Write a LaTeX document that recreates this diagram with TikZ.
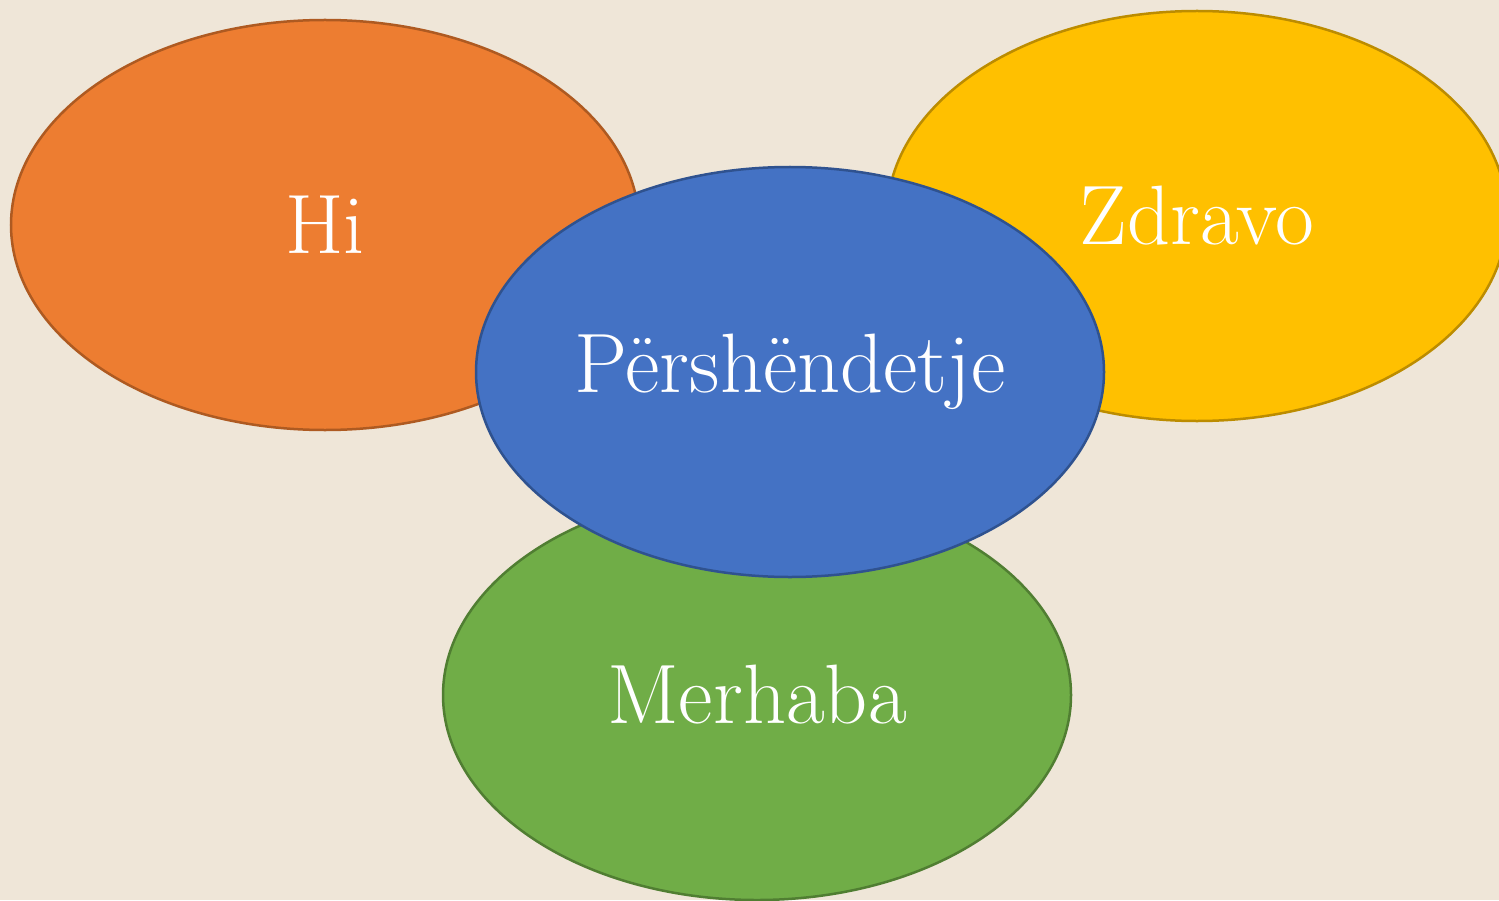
\documentclass[tikz,border=0pt]{standalone}
\usepackage{tikz}
\usetikzlibrary{shapes.geometric}
\definecolor{paper}{RGB}{239,230,216}
\definecolor{orangefill}{RGB}{237,125,49}
\definecolor{orangeline}{RGB}{174,90,33}
\definecolor{goldfill}{RGB}{255,192,0}
\definecolor{goldline}{RGB}{188,140,0}
\definecolor{bluefill}{RGB}{68,114,196}
\definecolor{blueline}{RGB}{47,82,143}
\definecolor{greenfill}{RGB}{112,173,71}
\definecolor{greenline}{RGB}{80,126,50}
\tikzset{
  blob/.style={ellipse, line width=0.25mm, inner sep=0pt,
    minimum width=6.28cm, minimum height=4.1cm},
  word/.style={text=white, font=\fontsize{24}{29}\selectfont}
}

\begin{document}
\begin{tikzpicture}
		%%%%% START %%%%%
		
		\clip (0, 0) rectangle (14.99, 9);
		\fill[paper] (0, 0) rectangle (14.99, 9);
		
		\node[blob, draw=orangeline, fill=orangefill] (hi) at (3.25, 6.75) {};
		\node[word] (hitext) at (hi) {Hi};
		\node[blob, draw=goldline, fill=goldfill, minimum width=6.2cm] (zdravo) at (11.97, 6.84) {};
		\node[word] (zdravotext) at (zdravo) {Zdravo};
		\node[blob, draw=greenline, fill=greenfill] (merhaba) at (7.57, 2.05) {};
		\node[word] (merhabatext) at (merhaba) {Merhaba};
		\node[blob, draw=blueline, fill=bluefill] (pershendetje) at (7.90, 5.28) {};
		\node[word] (pershendetjetext) at (pershendetje) {Përshëndetje};
		
		%%%%% END %%%%%
	\end{tikzpicture}
\end{document}
